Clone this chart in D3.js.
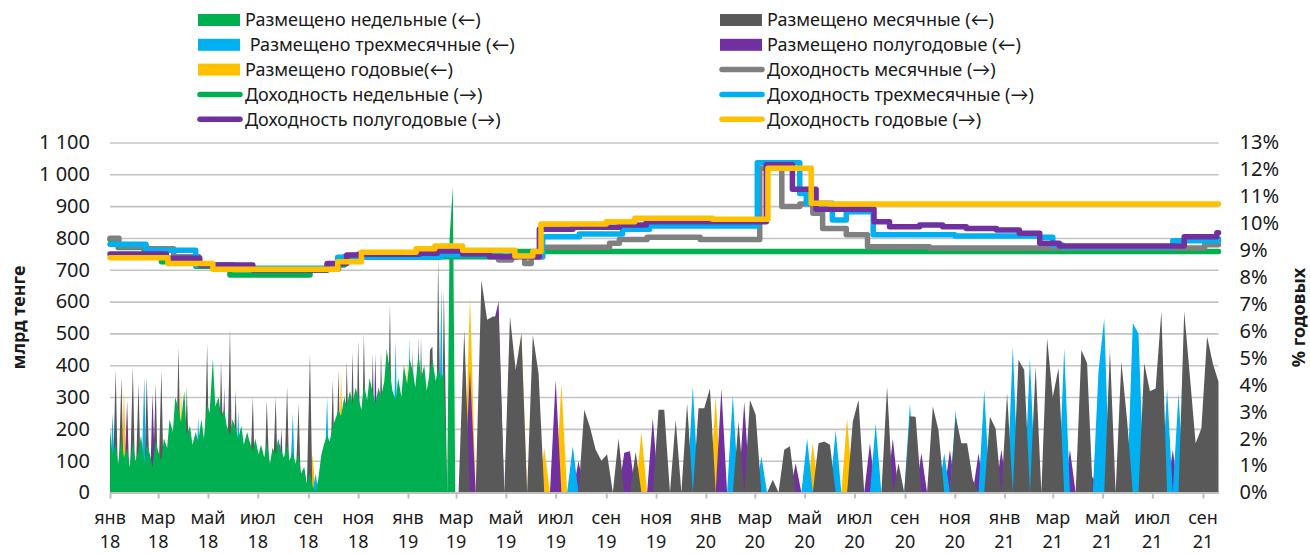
<!DOCTYPE html>
<html>
<head>
<meta charset="utf-8">
<script src="https://cdnjs.cloudflare.com/ajax/libs/d3/7.8.5/d3.min.js"></script>
<style>
  body { margin: 0; background: #fff; }
  svg text { font-family: 'Noto Sans', Lato, sans-serif; fill: #1a1a1a; }
</style>
</head>
<body>
<svg id="chart"></svg>
<script>
// ---- data ----
// placement auctions: Mon/Thu points until Feb 2019, weekly after that
const weeklyPlaced = [
  200,120,150,90,170,110,140,80,160,100,
  130,180,90,150,120,80,160,130,100,170,
  140,230,190,300,260,220,320,180,210,150,
  190,160,230,170,280,250,420,270,300,240,
  260,210,180,230,200,170,210,150,190,160,
  130,170,120,150,110,160,90,140,120,170,
  130,110,150,100,130,90,120,60,80,30,
  60,20,5,40,120,150,180,160,210,230,
  260,240,300,270,320,280,330,300,260,340,
  290,360,310,280,330,300,350,450,380,320,
  290,360,300,400,340,420,380,330,440,360,
  400,320,380,420,350,390,360,380,0,800,
  960,0
];
const monthlyPlaced = [
  ['2018-01-08',385],['2018-01-15',364],['2018-01-29',395],['2018-02-05',343],['2018-02-15',364],
  ['2018-02-26',343],['2018-03-05',385],['2018-03-26',458],['2018-04-05',333],['2018-04-30',469],
  ['2018-05-17',416],['2018-05-28',516],['2018-06-04',322],['2018-06-25',301],['2018-07-12',291],
  ['2018-07-23',301],['2018-08-06',333],['2018-08-20',280],['2018-09-03',437],['2018-10-01',354],
  ['2018-10-08',385],['2018-10-18',416],['2018-10-25',443],['2018-11-01',479],['2018-11-08',500],
  ['2018-11-19',437],['2018-11-29',443],['2018-12-10',595],['2018-12-20',333],['2019-01-07',448],
  ['2019-01-17',490],['2019-01-28',448],['2019-01-31',458],['2019-02-07',741],['2019-02-14',636],
  ['2019-03-11',511],['2019-04-01',668],['2019-04-08',543],['2019-04-15',553],['2019-04-22',553],
  ['2019-05-06',553],['2019-05-13',385],['2019-05-20',500],['2019-06-03',495],['2019-06-10',375],
  ['2019-08-05',260],['2019-08-12',205],['2019-08-19',134],['2019-08-26',100],['2019-09-02',120],
  ['2019-09-16',170],['2019-10-07',128],['2019-11-04',260],['2019-11-11',260],['2019-11-25',228],
  ['2019-12-09',280],['2019-12-23',265],['2019-12-30',265],['2020-01-06',327],['2020-02-10',223],
  ['2020-02-24',291],['2020-03-02',244],['2020-03-23',40],['2020-04-06',134],['2020-04-13',145],
  ['2020-05-18',155],['2020-05-25',160],['2020-06-01',150],['2020-06-29',223],['2020-07-06',291],
  ['2020-08-10',333],['2020-08-24',92],['2020-09-07',240],['2020-09-14',238],['2020-10-05',270],
  ['2020-10-12',196],['2020-11-02',240],['2020-11-09',155],['2020-11-16',155],['2020-11-23',40],
  ['2020-12-14',238],['2020-12-21',200],['2021-01-04',312],['2021-01-18',417],['2021-01-25',385],
  ['2021-02-08',396],['2021-02-22',485],['2021-03-01',300],['2021-03-08',391],['2021-04-05',448],
  ['2021-04-12',406],['2021-05-10',448],['2021-05-24',411],['2021-05-31',228],['2021-06-21',406],
  ['2021-06-28',318],['2021-07-05',327],['2021-07-12',569],['2021-08-09',569],['2021-08-16',364],
  ['2021-08-23',155],['2021-08-30',201],['2021-09-06',490],['2021-09-13',406],['2021-09-20',348]
];
const threeMonthPlaced = [
  ['2018-01-04',250],['2018-02-12',364],['2018-04-19',238],['2018-06-07',260],['2018-08-13',249],
  ['2018-09-10',60],['2018-09-24',300],['2018-12-17',479],['2019-01-03',490],['2019-02-11',650],
  ['2019-07-22',145],['2019-12-16',333],['2020-02-03',306],['2020-03-09',113],['2020-05-04',170],
  ['2020-06-08',196],['2020-07-27',217],['2020-09-07',280],['2020-10-19',123],['2020-11-02',260],
  ['2020-12-07',322],['2021-01-11',459],['2021-02-01',422],['2021-03-15',453],['2021-04-26',380],
  ['2021-05-03',548],['2021-06-07',532],['2021-06-14',500],['2021-07-19',327],['2021-08-02',312]
];
const sixMonthPlaced = [
  ['2018-01-22',290],['2018-02-22',310],['2018-05-21',330],['2018-07-30',200],['2018-11-22',437],
  ['2019-01-14',490],['2019-03-18',385],['2019-04-15',520],['2019-04-22',600],['2019-07-01',354],
  ['2019-07-29',100],['2019-09-23',125],['2019-09-30',130],['2019-10-28',233],['2020-01-20',327],
  ['2020-02-17',285],['2020-04-20',92],['2020-07-20',155],['2020-08-17',170],['2020-09-21',123],
  ['2020-10-26',134],['2020-11-30',123],['2020-12-28',134],['2021-03-22',134],['2021-04-19',50],
  ['2021-07-26',134]
];
const annualPlaced = [
  ['2018-01-18',322],['2018-03-29',330],['2018-09-06',120],['2018-10-11',380],['2018-12-31',420],
  ['2019-03-18',615],['2019-05-20',510],['2019-06-17',140],['2019-07-08',343],['2019-10-14',191],
  ['2020-01-13',302],['2020-05-11',155],['2020-06-22',233]
];

// yields, % (step lines)
const weeklyYield = [
  ['2018-01-01',9.4],['2018-01-11',9.1],['2018-02-12',8.85],['2018-03-05',8.57],['2018-04-16',8.4],
  ['2018-05-28',8.08],['2018-09-03',8.26],['2018-09-24',8.45],['2018-10-15',8.76],['2019-05-14',8.95],
  ['2021-09-20',8.95]
];
const monthlyYield = [
  ['2018-01-01',9.44],['2018-01-12',9.13],['2018-02-15',9.05],['2018-03-20',8.76],['2018-04-20',8.45],
  ['2018-06-01',8.3],['2018-09-10',8.3],['2018-10-08',8.6],['2018-10-25',8.8],['2019-01-10',8.85],
  ['2019-02-15',8.9],['2019-04-22',8.64],['2019-05-08',8.8],['2019-05-24',8.51],['2019-06-01',8.75],
  ['2019-06-15',9.11],['2019-09-05',9.26],['2019-09-17',9.4],['2019-10-21',9.48],['2019-12-25',9.4],
  ['2020-03-07',12.04],['2020-04-03',10.62],['2020-04-25',10.72],['2020-05-11',10.37],['2020-05-23',9.81],
  ['2020-06-21',9.57],['2020-07-17',9.13],['2020-10-01',9.08],['2021-09-03',9.2],['2021-09-20',9.2]
];
const threeMonthYield = [
  ['2018-01-01',9.22],['2018-02-14',9.0],['2018-04-16',8.45],['2018-06-01',8.33],['2018-10-07',8.74],
  ['2019-02-10',8.82],['2019-04-25',8.78],['2019-06-15',9.5],['2019-07-30',9.6],['2019-09-21',9.78],
  ['2019-10-24',9.9],['2020-03-04',12.25],['2020-04-25',11.11],['2020-05-03',10.74],['2020-06-04',10.12],
  ['2020-06-21',10.43],['2020-07-24',9.57],['2020-11-01',9.53],['2021-02-13',9.48],['2021-03-01',9.19],
  ['2021-03-13',9.13],['2021-07-26',9.35],['2021-09-20',9.42]
];
const sixMonthYield = [
  ['2018-01-01',8.86],['2018-03-11',8.7],['2018-04-21',8.45],['2018-06-25',8.26],['2018-09-24',8.51],
  ['2018-10-18',8.82],['2018-11-01',8.85],['2019-01-15',8.89],['2019-02-06',8.97],['2019-03-09',8.86],
  ['2019-04-11',8.76],['2019-06-11',9.78],['2019-07-22',9.85],['2019-09-17',9.94],['2019-10-20',10.06],
  ['2020-03-15',12.17],['2020-04-16',11.26],['2020-05-15',10.52],['2020-07-25',10.06],['2020-08-13',9.87],
  ['2020-09-19',9.94],['2020-10-17',9.87],['2020-11-15',9.81],['2020-12-22',9.75],['2021-01-19',9.63],
  ['2021-02-13',9.26],['2021-03-09',9.16],['2021-08-09',9.5],['2021-09-18',9.65],['2021-09-20',9.65]
];
const annualYield = [
  ['2018-01-01',8.72],['2018-03-13',8.51],['2018-05-07',8.29],['2018-10-07',8.57],['2018-11-05',8.92],
  ['2019-01-11',9.05],['2019-02-03',9.16],['2019-03-09',9.0],['2019-05-12',8.78],['2019-06-03',8.95],
  ['2019-06-13',9.97],['2019-09-01',10.06],['2019-10-06',10.19],['2020-01-09',10.15],['2020-03-17',12.04],
  ['2020-05-09',10.74],['2020-06-01',10.72],['2021-09-20',10.72]
];

const leftTicks = [0,100,200,300,400,500,600,700,800,900,1000,1100];
const rightTicks = [0,1,2,3,4,5,6,7,8,9,10,11,12,13];
const monthNames = ['янв','фев','мар','апр','май','июн','июл','авг','сен','окт','ноя','дек'];

const legendLabels = [
  'Размещено недельные (←)', 'Размещено месячные (←)',
  ' Размещено трехмесячные (←)', 'Размещено полугодовые (←)',
  'Размещено годовые(←)', 'Доходность месячные (→)',
  'Доходность недельные (→)', 'Доходность трехмесячные (→)',
  'Доходность полугодовые (→)', 'Доходность годовые (→)'
];

// ---- setup ----
const width = 1310, height = 554;
const pLeft = 110, pRight = 1218.5, pTop = 142.5, pBottom = 492.5;
const colors = { weekly: '#00b050', monthlyArea: '#595959', monthlyLine: '#808080', three: '#00b0f0', six: '#7030a0', annual: '#ffc000' };

const parse = d3.timeParse('%Y-%m-%d');
const startDay = parse('2018-01-01'), splitDay = parse('2019-03-01'), endDay = parse('2021-09-20');

// auction dates: Mondays and Thursdays first, then Mondays
const gridA = d3.timeMonday.range(startDay, splitDay)
  .concat(d3.timeThursday.range(startDay, splitDay))
  .sort((a, b) => a - b);
const gridB = d3.timeMonday.range(splitDay, d3.timeDay.offset(endDay, 1));
const grid = gridA.concat(gridB);

function toGrid(points) {
  const vals = grid.map(() => 0);
  points.forEach(([d, v]) => {
    const t = parse(d);
    const i = d3.minIndex(grid, g => Math.abs(g - t));
    vals[i] = Math.max(vals[i], v);
  });
  return vals;
}

const svg = d3.select('#chart').attr('width', width).attr('height', height);

const x = d3.scaleTime().domain([startDay, endDay]).range([pLeft, pRight]);
const yL = d3.scaleLinear().domain([0, 1100]).range([pBottom, pTop]);
const yR = d3.scaleLinear().domain([0, 13]).range([pBottom, pTop]);

const ru = d3.formatLocale({ decimal: ',', thousands: '\u00a0', grouping: [3], currency: ['', ''] });
const fmtL = ru.format(',');

// grid lines
svg.append('g')
  .attr('transform', 'translate(' + pLeft + ',0)')
  .call(d3.axisLeft(yL).tickValues(leftTicks.slice(1)).tickSize(-(pRight - pLeft)).tickFormat(''))
  .call(g => g.select('.domain').remove())
  .call(g => g.selectAll('line').attr('stroke', '#c3c3c3').attr('stroke-width', 1.6));

// areas, back to front
const area = d3.area()
  .x((d, i) => x(grid[i]))
  .y0(yL(0))
  .y1(d => yL(d));

const areaSeries = [
  { vals: toGrid(annualPlaced), color: colors.annual },
  { vals: toGrid(sixMonthPlaced), color: colors.six },
  { vals: toGrid(threeMonthPlaced), color: colors.three },
  { vals: toGrid(monthlyPlaced), color: colors.monthlyArea },
  { vals: grid.map((g, i) => i < weeklyPlaced.length ? weeklyPlaced[i] : 0), color: colors.weekly }
];
svg.append('g').selectAll('path')
  .data(areaSeries)
  .enter()
  .append('path')
  .attr('d', d => area(d.vals))
  .attr('fill', d => d.color);

// x axis
const xTicks = d3.timeMonth.every(2).range(startDay, endDay);
svg.append('g')
  .attr('transform', 'translate(0,' + pBottom + ')')
  .call(d3.axisBottom(x).tickValues(xTicks).tickSize(6).tickFormat('').tickSizeOuter(0))
  .call(g => g.select('.domain').attr('stroke', '#bfbfbf').attr('stroke-width', 2))
  .call(g => g.selectAll('line').attr('stroke', '#bfbfbf').attr('stroke-width', 2));

const xLabels = svg.append('g').selectAll('g')
  .data(xTicks)
  .enter()
  .append('g')
  .attr('font-size', '18px')
  .attr('text-anchor', 'middle');
xLabels.append('text').attr('x', d => x(d)).attr('y', 524).text(d => monthNames[d.getMonth()]);
xLabels.append('text').attr('x', d => x(d)).attr('y', 548).text(d => d3.timeFormat('%y')(d));

// left axis labels
svg.append('g')
  .attr('transform', 'translate(' + pLeft + ',0)')
  .call(d3.axisLeft(yL).tickValues(leftTicks).tickSize(0).tickPadding(20).tickFormat(d => fmtL(d)))
  .call(g => g.select('.domain').remove())
  .call(g => g.selectAll('text').attr('font-size', '20px').attr('fill', '#1a1a1a').attr('font-family', null));

// right axis labels
svg.append('g')
  .attr('transform', 'translate(' + pRight + ',0)')
  .call(d3.axisRight(yR).tickValues(rightTicks).tickSize(0).tickPadding(21).tickFormat(d => d + '%'))
  .call(g => g.select('.domain').remove())
  .call(g => g.selectAll('text').attr('font-size', '20px').attr('fill', '#1a1a1a').attr('font-family', null));

// yield lines
const line = d3.line()
  .x(d => x(parse(d[0])))
  .y(d => yR(d[1]))
  .curve(d3.curveStepAfter);

const lineSeries = [
  { pts: weeklyYield, color: colors.weekly },
  { pts: monthlyYield, color: colors.monthlyLine },
  { pts: threeMonthYield, color: colors.three },
  { pts: sixMonthYield, color: colors.six },
  { pts: annualYield, color: colors.annual }
];
svg.append('g').selectAll('path')
  .data(lineSeries)
  .enter()
  .append('path')
  .attr('d', d => line(d.pts))
  .attr('fill', 'none')
  .attr('stroke', d => d.color)
  .attr('stroke-width', 5.5)
  .attr('stroke-linejoin', 'round')
  .attr('stroke-linecap', 'round');

// axis titles
svg.append('text')
  .attr('transform', 'rotate(-90)')
  .attr('x', -(pTop + pBottom) / 2)
  .attr('y', 25)
  .attr('text-anchor', 'middle')
  .attr('font-size', '18px')
  .attr('font-weight', 'bold')
  .text('млрд тенге');
svg.append('text')
  .attr('transform', 'rotate(-90)')
  .attr('x', -(pTop + pBottom) / 2)
  .attr('y', 1305)
  .attr('text-anchor', 'middle')
  .attr('font-size', '18px')
  .attr('font-weight', 'bold')
  .text('% годовых');

// legend
const legendColors = [colors.weekly, colors.monthlyArea, colors.three, colors.six, colors.annual,
  colors.monthlyLine, colors.weekly, colors.three, colors.six, colors.annual];
const legendIsLine = [false, false, false, false, false, true, true, true, true, true];
const colX = [198, 720], rowY0 = 20, rowStep = 24.8, swatchW = 42;

const leg = svg.append('g').selectAll('g')
  .data(legendLabels)
  .enter()
  .append('g')
  .attr('transform', (d, i) => 'translate(' + colX[i % 2] + ',' + (rowY0 + rowStep * Math.floor(i / 2)) + ')');
leg.filter((d, i) => !legendIsLine[i])
  .append('rect')
  .attr('x', 0).attr('y', -6).attr('width', swatchW).attr('height', 12)
  .attr('fill', d => legendColors[legendLabels.indexOf(d)]);
leg.filter((d, i) => legendIsLine[i])
  .append('line')
  .attr('x1', 2).attr('x2', swatchW).attr('y1', 0).attr('y2', 0)
  .attr('stroke', d => legendColors[legendLabels.indexOf(d)])
  .attr('stroke-width', 5.5)
  .attr('stroke-linecap', 'round');
leg.append('text')
  .attr('x', swatchW + 5)
  .attr('y', 0)
  .attr('dy', '0.35em')
  .attr('font-size', '18px')
  .style('white-space', 'pre')
  .text(d => d);
</script>
</body>
</html>
